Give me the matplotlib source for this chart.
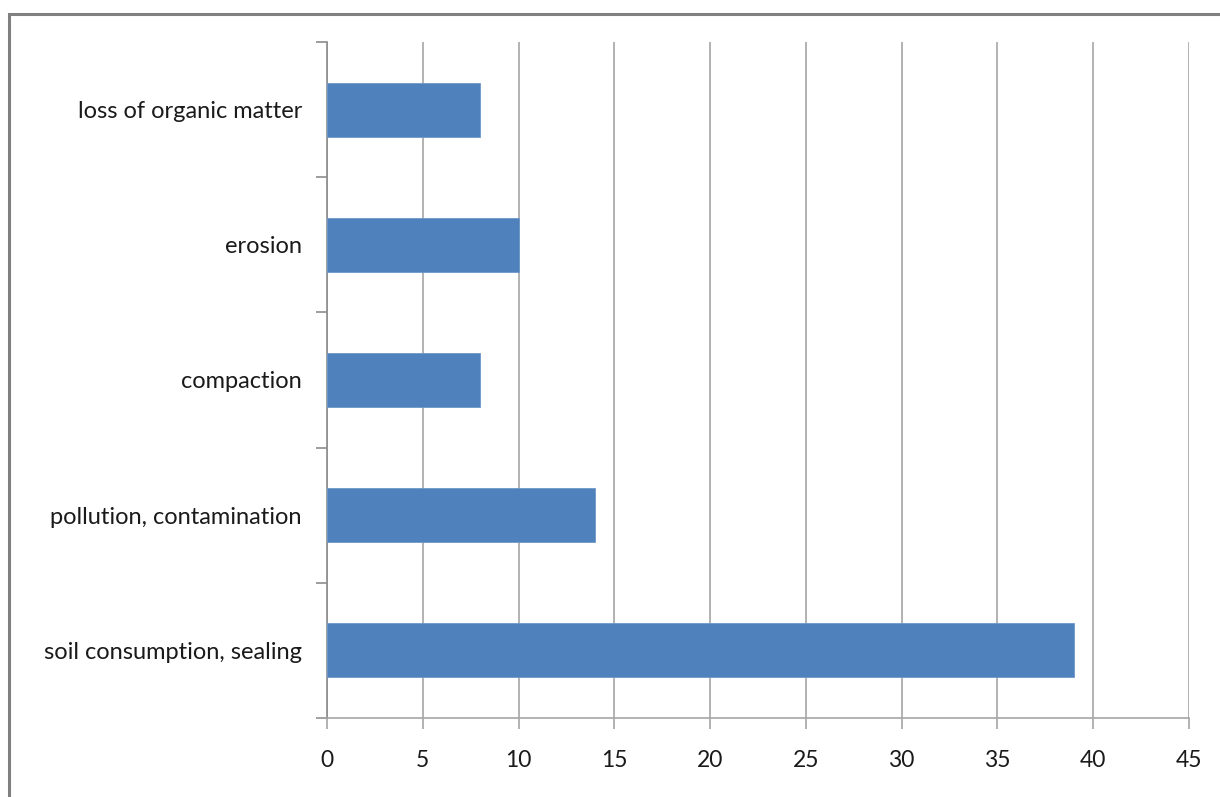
import matplotlib.pyplot as plt
from matplotlib.patches import Rectangle
import numpy as np

categories = ['soil consumption, sealing', 'pollution, contamination',
              'compaction', 'erosion', 'loss of organic matter']
values = [39, 14, 8, 10, 8]
xticks = [0, 5, 10, 15, 20, 25, 30, 35, 40, 45]

W, H = 1220, 797
fig = plt.figure(figsize=(W / 100, H / 100), dpi=100)
plt.rcParams['font.family'] = ['Lato', 'DejaVu Sans']

# outer chart frame, runs off the right and bottom edges
fig.patches.append(Rectangle((9 / W, -0.05), 1.1, 1 - 14 / H + 0.05,
                             transform=fig.transFigure, fill=False,
                             edgecolor='#808080', linewidth=2.2))

left, right, top, bottom = 327, 1189, 42, 718
ax = fig.add_axes([left / W, 1 - bottom / H, (right - left) / W, (bottom - top) / H])

pos = np.arange(len(categories))
ax.barh(pos, values, height=0.4, color='#4F81BD', edgecolor='#6E97CB',
        linewidth=0.6, zorder=3)

ax.set_xlim(0, 45)
ax.set_ylim(-0.5, len(categories) - 0.5)
ax.set_xticks(xticks)
ax.set_xticklabels([str(t) for t in xticks])
ax.grid(True, axis='x', color='#A6A6A6', linewidth=1.2, zorder=0)

# category boundaries carry the ticks on the value axis
ax.set_yticks(np.arange(len(categories) + 1) - 0.5)
ax.set_yticklabels([])
ax.set_yticks(pos, minor=True)
ax.set_yticklabels(categories, minor=True)
ax.tick_params(axis='y', which='major', length=8, width=1.2, color='#8C8C8C', direction='out')
ax.tick_params(axis='y', which='minor', length=0, pad=18, labelsize=17, labelcolor='#1a1a1a')
ax.tick_params(axis='x', length=8, width=1.2, color='#A6A6A6', pad=15,
               labelsize=16.5, labelcolor='#1a1a1a')

for side in ['top', 'right']:
    ax.spines[side].set_visible(False)
ax.spines['left'].set_color('#8C8C8C')
ax.spines['left'].set_linewidth(1.2)
ax.spines['bottom'].set_color('#A6A6A6')
ax.spines['bottom'].set_linewidth(1.2)
ax.spines['bottom'].set_bounds(-0.45, 45)

plt.savefig('out.png', dpi=100)
